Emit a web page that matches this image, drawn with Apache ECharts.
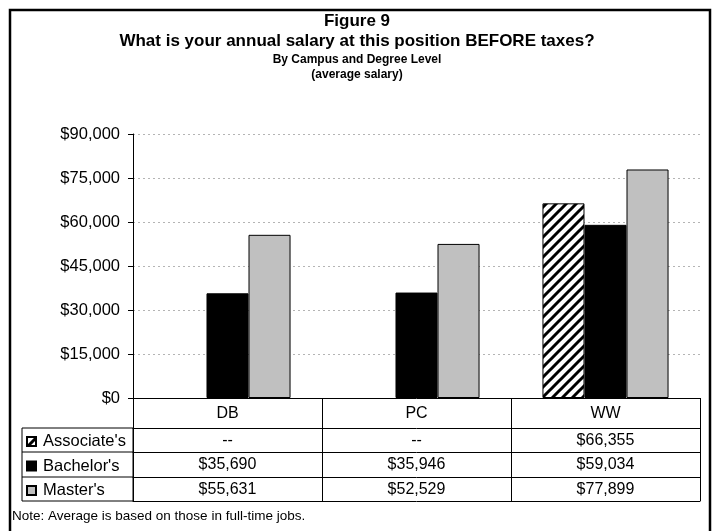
<!DOCTYPE html>
<html>
<head>
<meta charset="utf-8">
<script src="https://cdn.jsdelivr.net/npm/echarts@6/dist/echarts.min.js"></script>
<style>
    html, body { margin: 0; padding: 0; background: #fff; }
    #main { width: 714px; height: 531px; }
</style>
</head>
<body>
<div id="main"></div>
<script>
// 数据
const campuses = ['DB', 'PC', 'WW'];
const associate = [null, null, 66355];
const bachelor = [35690, 35946, 59034];
const master = [55631, 52529, 77899];
const seriesNames = ["Associate's", "Bachelor's", "Master's"];
const yTicks = [0, 15000, 30000, 45000, 60000, 75000, 90000];

const money = function (v) {
    if (v === null || v === undefined) return '--';
    return '$' + v.toLocaleString('en-US');
};

/*斜线填充*/
const hatch = function () {
    let s = 10;
    let c = document.createElement('canvas');
    c.width = s; c.height = s;
    let ctx = c.getContext('2d');
    ctx.fillStyle = '#fff';
    ctx.fillRect(0, 0, s, s);
    ctx.strokeStyle = '#000';
    ctx.lineWidth = 3;
    ctx.beginPath();
    ctx.moveTo(-s, s); ctx.lineTo(s, -s);
    ctx.moveTo(0, s); ctx.lineTo(s, 0);
    ctx.moveTo(0, 2 * s); ctx.lineTo(2 * s, 0);
    ctx.stroke();
    return { image: c, repeat: 'repeat' };
};

const font = 'Liberation Sans, Arial, sans-serif';
const gridLeft = 133, gridRight = 700, gridTop = 134, gridBottom = 398;
const rowLines = [428, 452, 477, 501];

let myChart = echarts.init(document.getElementById('main'));

// 表格的每一行用一个x轴画
const rowAxis = function (values, offset) {
    return {
        type: 'category',
        data: campuses,
        position: 'bottom',
        offset: offset,
        axisLine: { show: true, lineStyle: { color: '#000', width: 1 } },
        axisTick: { show: false },
        axisLabel: {
            show: values !== null,
            margin: 5,
            color: '#000',
            fontFamily: font,
            fontSize: 16,
            formatter: function (v, i) { return values ? money(values[i]) : ''; }
        }
    };
};

let option = {
    animation: false,
    title: [{
        text: 'Figure 9\nWhat is your annual salary at this position BEFORE taxes?',
        subtext: 'By Campus and Degree Level\n(average salary)',
        left: 'center',
        top: 11,
        padding: 0,
        itemGap: 1,
        textStyle: { fontFamily: font, fontWeight: 'bold', fontSize: 17, lineHeight: 20, color: '#000' },
        subtextStyle: { fontFamily: font, fontWeight: 'bold', fontSize: 12, lineHeight: 15, color: '#000' }
    }, {
        text: 'Note: Average is based on those in full-time jobs.',
        left: 12,
        top: 509,
        padding: 0,
        textStyle: { fontFamily: font, fontWeight: 'normal', fontSize: 13.5, color: '#000' }
    }],
    legend: {
        orient: 'vertical',
        left: 26,
        top: 433,
        padding: 0,
        itemWidth: 9,
        itemHeight: 9,
        itemGap: 7.5,
        icon: 'rect',
        data: seriesNames,
        textStyle: { fontFamily: font, fontSize: 16.5, color: '#000', padding: [0, 0, 0, 2], lineHeight: 16 }
    },
    grid: { left: gridLeft, right: 714 - gridRight, top: gridTop, bottom: 531 - gridBottom, containLabel: false },
    xAxis: [{
        type: 'category',
        data: campuses,
        position: 'bottom',
        axisLine: { show: true, lineStyle: { color: '#000', width: 1 } },
        axisTick: { show: true, interval: 0, length: rowLines[3] - gridBottom, lineStyle: { color: '#000' } },
        axisLabel: { margin: 8, color: '#000', fontFamily: font, fontSize: 16 }
    },
        rowAxis(associate, rowLines[0] - gridBottom),
        rowAxis(bachelor, rowLines[1] - gridBottom),
        rowAxis(master, rowLines[2] - gridBottom),
        rowAxis(null, rowLines[3] - gridBottom)
    ],
    yAxis: {
        type: 'value',
        min: yTicks[0],
        max: yTicks[yTicks.length - 1],
        interval: yTicks[1] - yTicks[0],
        axisLine: { show: true, lineStyle: { color: '#000', width: 1 } },
        axisTick: { show: true, length: 5, lineStyle: { color: '#000' } },
        axisLabel: { margin: 13, color: '#000', fontFamily: font, fontSize: 16.5, formatter: money },
        splitLine: { show: true, lineStyle: { color: '#b4b4b4', type: [2, 3], width: 1 } }
    },
    series: [{
        name: seriesNames[0],
        type: 'bar',
        data: associate,
        barGap: '0%',
        barCategoryGap: '33.3%',
        itemStyle: { color: hatch(), borderColor: '#000', borderWidth: 1 }
    }, {
        name: seriesNames[1],
        type: 'bar',
        data: bachelor,
        itemStyle: { color: '#000', borderColor: '#000', borderWidth: 1 }
    }, {
        name: seriesNames[2],
        type: 'bar',
        data: master,
        itemStyle: { color: '#c0c0c0', borderColor: '#000', borderWidth: 1 }
    }],
    graphic: [
        // 外框
        { type: 'rect', shape: { x: 10, y: 10, width: 700, height: 530 }, style: { fill: 'none', stroke: '#000', lineWidth: 2.5 } },
        // 图例列的框
        { type: 'rect', shape: { x: 22, y: rowLines[0], width: gridLeft - 22, height: rowLines[3] - rowLines[0] }, style: { fill: 'none', stroke: '#000', lineWidth: 1 } },
        { type: 'line', shape: { x1: 22, y1: rowLines[1], x2: gridLeft, y2: rowLines[1] }, style: { stroke: '#000', lineWidth: 1 } },
        { type: 'line', shape: { x1: 22, y1: rowLines[2], x2: gridLeft, y2: rowLines[2] }, style: { stroke: '#000', lineWidth: 1 } }
    ]
};

myChart.setOption(option);
</script>
</body>
</html>
